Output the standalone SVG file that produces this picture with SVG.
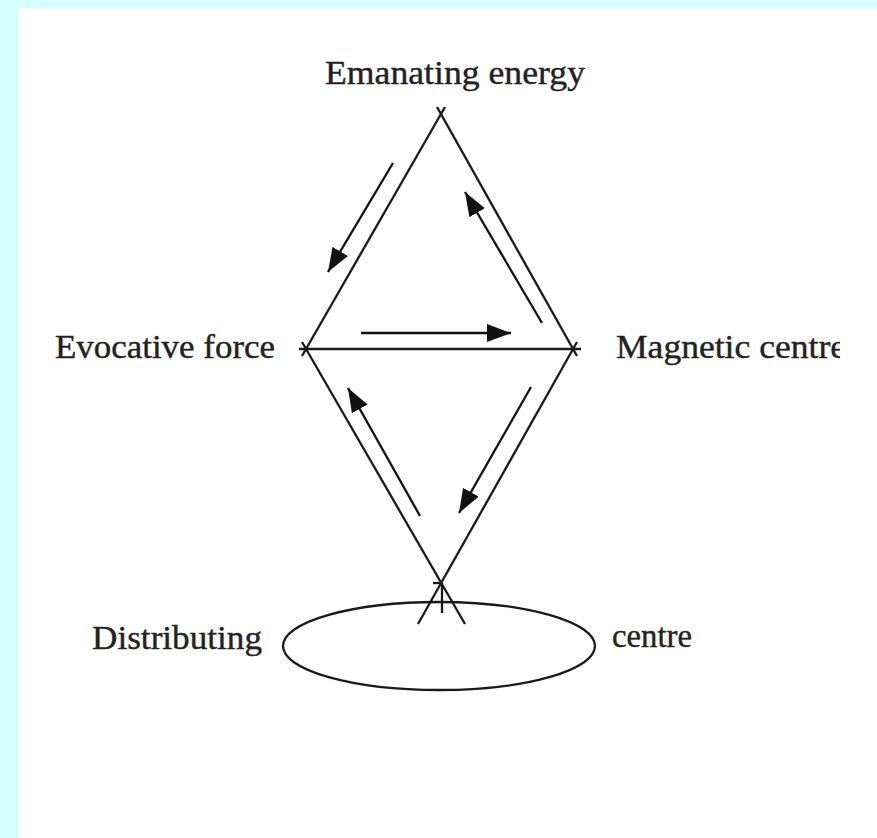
<svg xmlns="http://www.w3.org/2000/svg" width="877" height="838" viewBox="0 0 877 838">
  <style>
    .lbl { font-family: "Liberation Serif", "Times New Roman", serif; font-size: 34px; fill: #222; stroke: #222; stroke-width: 0.4px; }
    .edge { stroke: #1a1a1a; stroke-width: 2.3; fill: none; }
    .arr { stroke: #111; stroke-width: 2.3; fill: none; marker-end: url(#ah); }
  </style>
  <defs>
    <marker id="ah" markerUnits="userSpaceOnUse" markerWidth="26" markerHeight="20" refX="24" refY="9" orient="auto">
      <path d="M0,0 L24,9 L0,18 z" fill="#111"/>
    </marker>
    <clipPath id="clipR"><rect x="0" y="0" width="840" height="838"/></clipPath>
  </defs>
  <rect x="0" y="0" width="877" height="838" fill="#d4ffff"/>
  <rect x="18" y="8" width="859" height="830" fill="#ffffff"/>

  <g id="connectors">
    <line class="edge" x1="445" y1="107" x2="302" y2="356"/>
    <line class="edge" x1="437" y1="107" x2="577" y2="356"/>
    <line class="edge" x1="299" y1="349" x2="581" y2="349"/>
    <line class="edge" x1="302" y1="342" x2="465" y2="624"/>
    <line class="edge" x1="577" y1="342" x2="418" y2="624"/>
    <line class="edge" x1="433" y1="583" x2="442" y2="583"/>
    <line class="edge" x1="442" y1="583" x2="442" y2="613"/>
    <line class="arr" x1="393" y1="163" x2="328" y2="272"/>
    <line class="arr" x1="542" y1="323" x2="465" y2="192"/>
    <line class="arr" x1="361" y1="333" x2="511" y2="333"/>
    <line class="arr" x1="420" y1="516" x2="348" y2="388"/>
    <line class="arr" x1="531" y1="387" x2="459" y2="513"/>
  </g>

  <g id="node-emanating">
    <text class="lbl" x="325" y="84" textLength="260" lengthAdjust="spacingAndGlyphs">Emanating energy</text>
  </g>
  <g id="node-evocative">
    <text class="lbl" x="55" y="358" textLength="220" lengthAdjust="spacingAndGlyphs">Evocative force</text>
  </g>
  <g id="node-magnetic" clip-path="url(#clipR)">
    <text class="lbl" x="616" y="358" textLength="230" lengthAdjust="spacingAndGlyphs">Magnetic centre</text>
  </g>
  <g id="node-distributing">
    <ellipse cx="439" cy="646" rx="156" ry="44" fill="none" stroke="#1a1a1a" stroke-width="2.3"/>
    <text class="lbl" x="92" y="649" textLength="170" lengthAdjust="spacingAndGlyphs">Distributing</text>
    <text class="lbl" x="612" y="647" textLength="80" lengthAdjust="spacingAndGlyphs">centre</text>
  </g>
</svg>
